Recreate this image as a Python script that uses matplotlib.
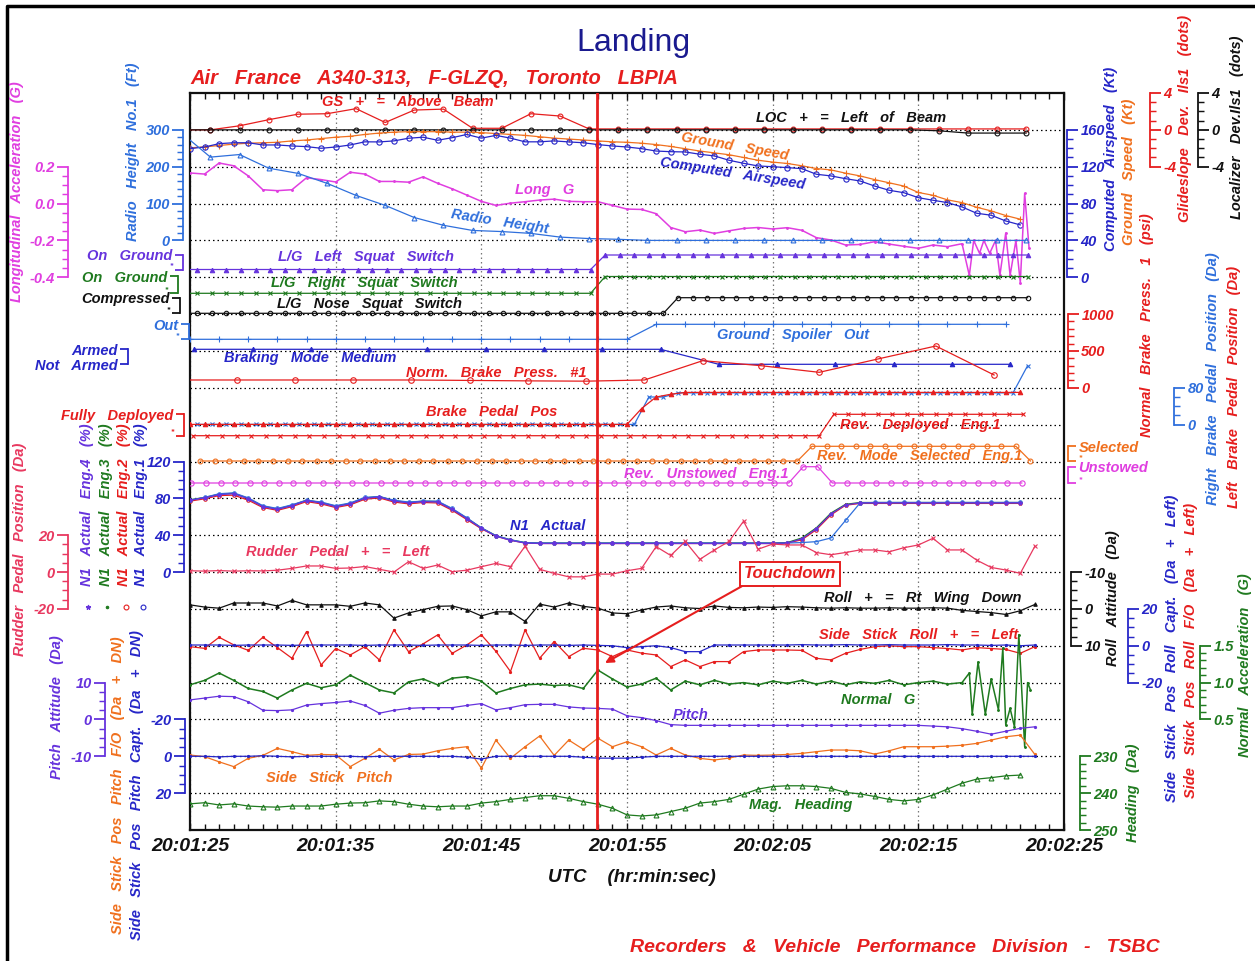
import numpy as np
import matplotlib
matplotlib.use("Agg")
import matplotlib.pyplot as plt
from matplotlib.lines import Line2D
from matplotlib.ticker import FixedLocator

plt.rcParams['font.family'] = ['Liberation Sans', 'DejaVu Sans']
plt.rcParams['font.style'] = 'italic'
plt.rcParams['font.weight'] = 'bold'
plt.rcParams['axes.unicode_minus'] = False

# ======================= DATA =======================
TIME_TICKS = [0, 10, 20, 30, 40, 50, 60]
TIME_LABELS = ['20:01:25', '20:01:35', '20:01:45', '20:01:55', '20:02:05', '20:02:15', '20:02:25']
TOUCHDOWN_T = 27.95

# ILS deviations (2 s samples)
ILS_T = np.arange(-0.6, 57.5, 2.0)
GLIDESLOPE = [0, 0, 0.44, 1.1, 1.7, 1.75, 2.3, 0.8, 2.15, 2.25, 0.17, 0.17, 1.75, 1.5, 0.1,
              0.1, 0.1, 0.1, 0.1, 0.1, 0.1, 0.1, 0.1, 0.1, 0.1, 0.1, 0.1, 0.1, 0.1, 0.1]
LOCALIZER = [0, 0, 0, 0, 0, 0, 0, 0, 0, 0, 0, 0, 0, 0, 0,
             0, 0, 0, 0, 0, 0, 0, 0, 0, 0, 0, -0.1, -0.35, -0.35, -0.35]

# Radio height (2 s samples)
RH_T = np.arange(-0.6, 57.5, 2.0)
RADIO_HEIGHT = [292, 226, 233, 196, 182, 155, 122, 95, 62, 41, 27, 24, 19, 9, 5,
                3, 0, 0, 0, 0, 0, 0, 0, 0, 0, 0, 0, 0, 0, 0]

# Speeds (1 s samples)
SPD_T = np.arange(0, 58)
CAS = [139.6, 141.4, 145, 146, 146, 143.6, 143.6, 142.5, 141.8, 140,
       141.4, 143.6, 147, 146.9, 148, 150.9, 152, 148.7, 151.5, 155,
       151, 154, 151, 147, 147, 148, 146.9, 146, 144, 142.5,
       141.4, 139.6, 137, 136.3, 136, 133.5, 131.7, 127, 123.7, 120.8,
       120, 119, 117.9, 111.8, 110, 107, 104.5, 99, 94.4, 91.8,
       86.4, 83.6, 81, 76.3, 69.5, 67.3, 61.1, 56.8]
GROUND_SPEED = [140.5, 141.5, 143, 144.5, 145.5, 146, 146.5, 148, 149, 150.5,
                152, 153, 155, 156.5, 157.5, 158, 158, 158, 157.5, 157.5,
                157, 156, 155, 154, 152.5, 151, 150, 149, 148, 147,
                146.5, 145.5, 144, 142, 139.5, 137, 135, 133, 130, 127,
                125, 123.5, 121, 118, 116.5, 113, 110, 106, 102.5, 99,
                92, 89, 84, 81, 76, 72, 67, 63]

# Longitudinal acceleration (G)
LONG_G_T = [0, 1, 2, 3, 4, 5, 6, 7, 8, 9, 10, 11, 12, 13, 14, 15, 16, 17, 18, 19,
            20, 21, 22, 23, 24, 25, 26, 27, 28, 29, 30, 31, 32, 33, 34, 35, 36, 37, 38, 39,
            40, 41, 42, 43, 44, 45, 46, 47, 48, 49, 50, 51, 52, 53,
            53.5, 53.8, 54.2, 54.5, 54.9, 55.3, 55.6, 56.0, 56.3, 56.7, 57.0, 57.3, 57.6]
LONG_G = [0.166, 0.16, 0.22, 0.205, 0.15, 0.075, 0.07, 0.075, 0.14, 0.13,
          0.117, 0.17, 0.16, 0.12, 0.12, 0.116, 0.145, 0.11, 0.08, 0.046,
          0.012, -0.01, 0.002, 0.01, 0.019, 0.024, 0.012, 0.01, 0.01, -0.01,
          -0.03, -0.032, -0.055, -0.13, -0.153, -0.144, -0.162, -0.148, -0.135, -0.13,
          -0.138, -0.131, -0.145, -0.185, -0.198, -0.225, -0.222, -0.207, -0.22, -0.232,
          -0.243, -0.225, -0.234, -0.218,
          -0.39, -0.2, -0.27, -0.2, -0.27, -0.2, -0.39, -0.16, -0.39, -0.2, -0.43, 0.055, -0.24]

# Discrete signals (0/1)
SQ_T = np.arange(-0.5, 58.0, 1.0)
LEFT_SQUAT = [0] * 29 + [1] * 30
RIGHT_SQUAT = [0] * 29 + [1] * 30
NOSE_SQUAT = [0] * 34 + [1] * 25
SPOILER_T = np.arange(0, 57, 2)
GROUND_SPOILER = [0] * 16 + [1] * 13
BRK_MODE_T = np.arange(0.3, 57, 4)
BRAKING_MODE_MED = [1] * 9 + [0] * 6
REV_DEP_T = np.arange(0.2, 58, 1.0)
REV_DEPLOYED = [0] * 44 + [1] * 14
REV_SEL_T = np.arange(0.7, 58, 1.0)
REV_SELECTED = [0] * 42 + [1] * 15 + [0]
REV_UNS_T = np.arange(0.1, 58, 1.0)
REV_UNSTOWED = [0] * 42 + [1, 1] + [0] * 14

# Normal brake pressure (psi), 4 s samples
PSI_T = np.arange(-0.8, 56, 4.0)
BRAKE_PRESS = [106, 106, 106, 106, 106, 100, 94, 90, 106, 368, 300, 210, 390, 567, 174]

# Brake pedal positions (deg)
LPED_T = np.arange(0, 58)
LEFT_PEDAL = [0.5] * 31 + [35, 60, 66] + [70] * 24
RPED_T = np.arange(0.5, 58, 1.0)
RIGHT_PEDAL = [0.5] * 31 + [60, 60, 69] + [69] * 23 + [128]

# N1 (%)
N1_T = np.arange(0, 58)
N1_ENG4 = [78, 80.5, 84, 85, 79.5, 71, 68, 72, 77.5, 75,
           71, 74, 80, 81.5, 77, 75, 76.5, 76, 68, 58,
           47.5, 39, 34.5, 31.5, 31, 31, 31, 31, 31, 31,
           31, 31, 31, 31, 31, 31, 31, 31, 31, 31,
           31, 31.5, 36, 47, 63, 73, 75, 75, 75, 75,
           75, 75, 75, 75, 75, 75, 75, 75]
N1_ENG3 = [78.5, 81, 84.5, 85.5, 80, 71.5, 68.5, 72.5, 78, 75.5,
           71.5, 74.5, 80.5, 82, 77.5, 75.5, 77, 76.5, 68.5, 58.5,
           48, 39.5, 35, 32, 31.5, 31.5, 31.5, 31.5, 31.5, 31.5,
           31.5, 31.5, 31.5, 31.5, 31.5, 31.5, 31.5, 31.5, 31.5, 31.5,
           31.5, 32, 37, 48, 64, 73.5, 75.5, 75.5, 75.5, 75.5,
           75.5, 75.5, 75.5, 75.5, 75.5, 75.5, 75.5, 75.5]
N1_ENG2 = [77, 79.5, 83, 83.5, 78, 70, 67, 71, 76.5, 74,
           70, 73, 79, 80.5, 76, 74, 75.5, 75, 67, 57,
           47, 39, 34.5, 31.5, 31, 31, 31, 31, 31, 31,
           31, 31, 31, 31, 31, 31, 31, 31, 31, 31,
           31, 31.5, 35, 46, 62, 72.5, 74.5, 74.5, 74.5, 74.5,
           74.5, 74.5, 74.5, 74.5, 74.5, 74.5, 74.5, 74.5]
N1_ENG1 = [78, 81, 85, 86, 80.5, 72, 69, 73, 78, 76,
           72, 75, 81, 82, 78, 76, 77, 77, 69, 59,
           48, 39.5, 35, 32, 31.5, 31.5, 31.5, 31.5, 31.5, 31.5,
           31.5, 31.5, 31.5, 31.5, 31.5, 31.5, 31.5, 31.5, 31.5, 31.5,
           31.5, 31.5, 32, 33, 37, 56, 75, 75.5, 75.5, 75.5,
           75.5, 75.5, 75.5, 75.5, 75.5, 75.5, 75.5, 75.5]

# 1 s samples t = 0..58
T59 = np.arange(0, 59)
RUDDER = [0.7, 0.5, 0.8, 0.5, 0.7, 0.6, 1.0, 2.0, 3.3, 3.3,
          2.0, 2.2, 3.0, 1.5, 0.0, 5.6, 2.0, 3.8, 0.2, 1.0,
          2.9, 4.7, 2.9, 14.0, 1.5, -0.7, -2.6, -2.6, -1.1, -1.1,
          0.7, 2.0, 13.8, 9.0, 16.6, 6.9, 12.0, 16.6, 27.6, 12.4,
          15.2, 14.7, 14.7, 10.6, 9.4, 10.6, 12.0, 12.0, 11.0, 13.2,
          14.7, 18.3, 12.0, 12.0, 6.5, 2.5, 1.1, -0.7, 14.0]
ROLL = [-1.1, -0.5, -0.2, -1.6, -1.6, -1.6, -0.8, -2.3, -1.1, -1.1,
        -1.1, -0.7, -1.6, -1.1, 2.5, 1.1, 0.2, -0.7, -0.8, 0.2,
        1.9, 0.8, 0.8, 3.4, -1.3, -0.5, -1.6, -0.7, -0.2, 1.1,
        1.3, 0.3, -0.5, -0.8, -0.3, -0.1, -0.8, -0.4, -0.3, -0.5,
        -0.4, -0.6, -0.5, -0.3, -0.2, -0.3, -0.2, -0.2, -0.3, -0.2,
        -0.2, -0.3, -0.2, 0.4, 0.7, 1.0, 1.5, 0.5, -1.2]
SS_ROLL_FO = [-0.5, -1.4, 4.6, 0.5, -2.5, 4.6, -1.0, -6.8, 7.7, -10.4,
              -1.5, -5.0, -0.5, -7.7, 8.6, -3.2, 1.0, 5.9, -4.1, 0.4,
              5.9, -3.0, -14.0, 8.6, -6.8, 2.3, -5.9, -1.4, -2.3, -5.9,
              -2.3, -4.0, -5.0, -11.3, -7.7, -11.3, -8.6, -8.6, -3.2, -2.3,
              -2.3, -2.3, -2.5, -6.8, -7.7, -4.1, -2.0, -0.5, 0.0, -0.5,
              -0.5, -1.0, -1.5, -2.3, -1.0, -1.5, -2.0, -4.1, -0.5]
SS_ROLL_CAPT = [0.4, 0.4, 0.4, 0.2, 0.4, 0.4, 0.4, 0.2, 0.4, 0.4,
                0.4, 0.4, 0.2, 0.4, 0.4, 0.4, 0.2, 0.4, 0.4, 0.4,
                0.2, 0.4, 0.4, 0.2, 0.4, 0.4, 0.2, 0.4, 0.2, 0.0,
                -1.0, -0.5, 0.0, -1.0, -3.2, -3.2, 0.4, 0.4, 0.4, 0.4,
                0.4, 0.4, 0.6, 0.4, 0.4, 0.6, 0.4, 0.4, 0.6, 0.4,
                0.4, 0.4, 0.6, 0.4, 0.4, 0.2, 0.4, 0.0, 0.4]
PITCH = [5.3, 5.8, 6.3, 6.2, 4.8, 2.5, 2.4, 2.6, 3.9, 4.3,
         4.6, 5.0, 3.8, 1.7, 2.5, 3.0, 3.2, 3.2, 3.2, 3.8,
         4.3, 2.6, 3.2, 4.0, 4.1, 4.1, 3.4, 3.1, 3.0, 2.8,
         1.0, 0.5, -0.3, -1.4, -1.6, -1.6, -1.6, -1.6, -1.6, -1.6,
         -1.6, -1.6, -1.6, -1.6, -1.6, -1.6, -1.6, -1.6, -1.6, -1.6,
         -1.6, -1.8, -2.0, -2.5, -3.2, -4.0, -3.2, -2.4, -2.0]
SS_PITCH_FO = [-0.7, 0.2, 3.0, 5.6, 1.1, -0.5, -4.3, -2.5, -0.5, -1.0,
               -0.8, 5.6, 1.1, -3.8, 2.0, -1.0, -1.2, -3.0, -4.3, -5.2,
               6.5, -8.8, 1.1, -5.2, -11.0, -0.5, -8.8, -3.8, -9.8, -5.2,
               -7.9, -5.2, -0.7, -4.3, -0.7, 1.1, 2.0, 1.0, -0.7, -0.5,
               -0.7, -1.0, -1.6, -2.5, -3.4, -3.4, -3.0, -1.2, -3.0, -5.2,
               -5.2, -5.2, -5.5, -6.0, -7.0, -8.8, -10.6, -11.5, -1.0]
SS_PITCH_CAPT = [0, 0, 0.3, 0, 0, -0.3, 0, 0.3, 0, 0,
                 0, 0, 0.3, 0, 0, 0, 0, 0, 0, 0.5,
                 1.5, 0, 0, 0, 0, 0, 0, 0.5, 1.0, 1.0,
                 1.0, 0.5, 0, 0, 0, 0, 0, 0, 0, 0,
                 0, 0, 0, 0, 0, 0, 0, 0, 0, 0,
                 0, 0, 0, 0, 0, 0, 0, 0, 0]

# Normal acceleration (G)
NORM_G_T = list(range(0, 54)) + [53.5, 53.7, 54.1, 54.6, 55.0, 55.5, 55.8, 56.0, 56.3, 56.6, 56.9, 57.3, 57.5, 57.7]
NORM_G = [0.97, 1.03, 1.13, 1.03, 0.92, 0.88, 0.79, 0.9, 0.99, 0.93,
          0.97, 1.1, 1.0, 0.9, 0.86, 1.01, 1.05, 0.97, 1.06, 1.08,
          1.02, 0.86, 0.92, 0.97, 0.98, 0.96, 0.97, 0.92, 1.17, 1.05,
          0.94, 0.98, 1.06, 0.9, 1.02, 0.97, 1.03, 0.98, 1.0, 0.97,
          1.02, 0.99, 1.03, 0.98, 1.02, 0.97, 1.01, 0.99, 1.03, 0.97,
          1.0, 1.02, 0.98, 1.0,
          1.13, 0.57, 1.28, 0.57, 1.05, 0.63, 1.47, 0.43, 0.65, 0.4, 1.65, 0.13, 1.0, 0.9]

# Magnetic heading (deg)
HDG_T = np.arange(0, 58)
HEADING = [242.9, 242.6, 243.2, 242.9, 243.5, 243.7, 243.8, 243.5, 243.5, 243.5,
           243.0, 242.7, 242.6, 242.1, 242.3, 243.0, 243.5, 243.7, 243.5, 243.5,
           242.7, 242.3, 241.7, 241.2, 240.7, 240.7, 241.4, 242.3, 243.0, 244.1,
           245.9, 246.2, 245.9, 245.0, 244.1, 242.7, 242.3, 241.7, 240.3, 238.9,
           238.2, 238.0, 238.0, 238.2, 238.7, 239.8, 240.2, 240.9, 241.7, 242.1,
           241.7, 240.5, 238.9, 237.3, 236.2, 235.8, 235.3, 235.1]

# ======================= STYLE =======================
RED = '#e61e1e'
ORANGE = '#f0701e'
DBLUE = '#2626c8'
LBLUE = '#2f6fdc'
PURPLE = '#6633dd'
GREEN = '#1f7a1f'
MAGENTA = '#e03ee0'
CRIMSON = '#e8385f'
BLACK = '#111111'
LBL = 10.5  # inner label font size

W, H = 1255, 961
fig = plt.figure(figsize=(W / 100, H / 100), dpi=100)
fig.patch.set_facecolor('white')


def fx(x):
    return x / W


def fy(y):
    return 1 - y / H


X0, X1, Y0, Y1 = 190, 1064, 93, 830
UPX = (Y1 - Y0) / 20.0
PX_PER_S = (X1 - X0) / 60.0


def gy(k):
    return Y1 - k * UPX


ax = fig.add_axes([fx(X0), fy(Y1), (X1 - X0) / W, (Y1 - Y0) / H])
ax.set_xlim(0, 60)
ax.set_ylim(0, 20)
ax.set_xticks(TIME_TICKS)
ax.set_xticklabels(TIME_LABELS)
ax.xaxis.set_minor_locator(FixedLocator(np.arange(0, 61, 1)))
ax.tick_params(axis='x', which='both', direction='in', top=True, bottom=True,
               labelsize=14, pad=6, colors=BLACK)
ax.tick_params(axis='x', which='major', length=5, width=1)
ax.tick_params(axis='x', which='minor', length=4, width=1)
ax.set_yticks(np.arange(1, 20))
ax.tick_params(axis='y', length=0, labelleft=False)
ax.grid(axis='y', color='black', lw=0.9, ls=(0, (1.2, 2.4)))
ax.grid(axis='x', color='#777777', lw=0.9, ls=(0, (1.2, 2.4)))
for s in ax.spines.values():
    s.set_linewidth(1.6)
    s.set_color(BLACK)

_cnt = [0]


def overlay(u_a, v_a, u_b, v_b):
    _cnt[0] += 1
    a = fig.add_axes(ax.get_position().bounds, sharex=ax, label='ov%d' % _cnt[0])
    a.set_axis_off()
    s = (v_b - v_a) / (u_b - u_a)
    a.set_ylim(v_a - u_a * s, v_a + (20 - u_a) * s)
    return a


def overlay_px(y_a, v_a, y_b, v_b):
    return overlay((Y1 - y_a) / UPX, v_a, (Y1 - y_b) / UPX, v_b)


def trace(a, t, v, color, marker=None, ms=3.5, open_=False, lw=0.9, mew=0.8):
    a.plot(t, v, color=color, lw=lw, marker=marker, ms=ms,
           mfc='none' if open_ else color, mec=color, mew=mew)


def side_scale(x, y_top, v_top, y_bot, v_bot, color, major, minor=None, side='left',
               labels=None, length=8, mlength=4, lsize=10.5, lw=1.3):
    _cnt[0] += 1
    a = fig.add_axes([fx(x), fy(y_bot), 1e-4, (y_bot - y_top) / H], label='sc%d' % _cnt[0])
    a.set_ylim(v_bot, v_top)
    a.patch.set_visible(False)
    for s in a.spines:
        a.spines[s].set_visible(s == side)
    a.spines[side].set_color(color)
    a.spines[side].set_linewidth(lw)
    a.set_xticks([])
    if side == 'left':
        a.yaxis.tick_left()
    else:
        a.yaxis.tick_right()
    a.set_yticks(major)
    if labels is not None:
        a.set_yticklabels(labels)
    if minor is not None:
        a.yaxis.set_minor_locator(FixedLocator(minor))
    a.tick_params(axis='y', which='major', direction='out', length=length, width=lw,
                  color=color, labelcolor=color, labelsize=lsize, pad=1.5)
    a.tick_params(axis='y', which='minor', direction='out', length=mlength, width=lw * 0.8,
                  color=color)
    for lbl in a.get_yticklabels():
        if lbl.get_text() == '*':
            lbl.set_fontsize(6)
            lbl.set_verticalalignment('bottom')
    return a


# ======================= TRACES =======================
a_ils = overlay(19, 0, 20, 4)
trace(a_ils, ILS_T, GLIDESLOPE, RED, 'o', open_=True)
trace(a_ils, ILS_T, LOCALIZER, BLACK, 'o', open_=True)

a_kt = overlay(15, 0, 19, 160)
trace(a_kt, SPD_T, GROUND_SPEED, ORANGE, '+', ms=4)
trace(a_kt, SPD_T, CAS, DBLUE, 'o', open_=True, ms=3.8)

a_lg = overlay(17, 0.0, 18, 0.2)
trace(a_lg, LONG_G_T, LONG_G, MAGENTA, '.', ms=2.5, lw=1.1)

a_rh = overlay(16, 0, 19, 300)
trace(a_rh, RH_T, RADIO_HEIGHT, LBLUE, '^', open_=True, ms=3.5)

a_lsq = overlay_px(269.5, 0, 255.0, 1)
trace(a_lsq, SQ_T, LEFT_SQUAT, PURPLE, '^', ms=3.2)
a_rsq = overlay_px(293.3, 0, 276.5, 1)
trace(a_rsq, SQ_T, RIGHT_SQUAT, GREEN, 'x', ms=3.2)
a_nsq = overlay_px(313.3, 0, 297.7, 1)
trace(a_nsq, SQ_T, NOSE_SQUAT, BLACK, 'o', open_=True, ms=3.2)
a_sp = overlay_px(339.3, 0, 324.3, 1)
trace(a_sp, SPOILER_T, GROUND_SPOILER, LBLUE, '+', ms=4)
a_bm = overlay_px(364.3, 0, 349.3, 1)
trace(a_bm, BRK_MODE_T, BRAKING_MODE_MED, DBLUE, '^', ms=3.2)

a_psi = overlay(12, 0, 14, 1000)
trace(a_psi, PSI_T, BRAKE_PRESS, RED, 'o', open_=True, ms=4)

a_ped = overlay(11, 0, 12, 80)
trace(a_ped, RPED_T, RIGHT_PEDAL, LBLUE, 'x', ms=3.2)
trace(a_ped, LPED_T, LEFT_PEDAL, RED, '^', ms=3.2)

a_rd = overlay_px(435.7, 0, 414.3, 1)
trace(a_rd, REV_DEP_T, REV_DEPLOYED, RED, 'x', ms=3.2)
a_rs = overlay_px(461.0, 0, 446.3, 1)
trace(a_rs, REV_SEL_T, REV_SELECTED, ORANGE, 'o', open_=True, ms=3.5)
a_ru = overlay_px(483.0, 0, 466.7, 1)
trace(a_ru, REV_UNS_T, REV_UNSTOWED, MAGENTA, 'o', open_=True, ms=3.8)

a_n1 = overlay(7, 0, 10, 120)
trace(a_n1, N1_T, N1_ENG2, RED, 'o', open_=True, ms=2.5)
trace(a_n1, N1_T, N1_ENG3, GREEN, '.', ms=2.5)
trace(a_n1, N1_T, N1_ENG1, LBLUE, 'o', open_=True, ms=2.5)
trace(a_n1, N1_T, N1_ENG4, PURPLE, '*', ms=3)

a_rud = overlay(7, 0, 8, 20)
trace(a_rud, T59, RUDDER, CRIMSON, 'x', ms=3.2)

a_roll = overlay(6, 0, 7, -10)
trace(a_roll, T59, ROLL, BLACK, '^', ms=2.5)

a_ssr = overlay(5, 0, 6, 20)
trace(a_ssr, T59, SS_ROLL_FO, RED, '.', ms=3)
trace(a_ssr, T59, SS_ROLL_CAPT, DBLUE, '.', ms=3)

a_ng = overlay(4, 1.0, 5, 1.5)
trace(a_ng, NORM_G_T, NORM_G, GREEN, '.', ms=2.5, lw=1.1)

a_pt = overlay(3, 0, 4, 10)
trace(a_pt, T59, PITCH, PURPLE, '.', ms=3)

a_ssp = overlay(2, 0, 3, -20)
trace(a_ssp, T59, SS_PITCH_FO, ORANGE, '.', ms=3)
trace(a_ssp, T59, SS_PITCH_CAPT, DBLUE, '.', ms=3)

a_hdg = overlay(1, 240, 2, 230)
trace(a_hdg, HDG_T, HEADING, GREEN, '^', open_=True, ms=3.5)

# ======================= TEXT OVERLAY =======================
tax = overlay(0, 0, 20, 20)
tax.axvline(TOUCHDOWN_T, color=RED, lw=2)
tax.annotate('Touchdown', xy=((605 - X0) / PX_PER_S, (Y1 - 663) / UPX),
             xytext=((790 - X0) / PX_PER_S, (Y1 - 574) / UPX),
             ha='center', va='center', color=RED, fontsize=12,
             bbox=dict(boxstyle='square,pad=0.25', fc='white', ec=RED, lw=1.4),
             arrowprops=dict(arrowstyle='-|>', color=RED, lw=1.5, relpos=(0.07, 0.0),
                             shrinkA=0, shrinkB=0, mutation_scale=12))


def ftext(x, y, s, color, size=LBL, rot=0, ha='center', **kw):
    fig.text(fx(x), fy(y), s, color=color, fontsize=size, rotation=rot, ha=ha,
             va='center', rotation_mode='anchor', **kw)


# inner labels
ftext(408, 102, 'GS   +   =   Above   Beam', RED)
ftext(851, 118, 'LOC   +   =   Left   of   Beam', BLACK)
ftext(735, 147, 'Ground   Speed', ORANGE, rot=-10)
ftext(733, 174, 'Computed   Airspeed', DBLUE, rot=-9)
ftext(545, 190, 'Long   G', MAGENTA)
ftext(500, 222, 'Radio   Height', LBLUE, rot=-9)
ftext(366, 257, 'L/G   Left   Squat   Switch', PURPLE)
ftext(364, 283, 'L/G   Right   Squat   Switch', GREEN)
ftext(369, 304, 'L/G   Nose   Squat   Switch', BLACK)
ftext(793, 335, 'Ground   Spoiler   Out', LBLUE)
ftext(310, 358, 'Braking   Mode   Medium', DBLUE)
ftext(496, 373, 'Norm.   Brake   Press.   #1', RED)
ftext(492, 412, 'Brake   Pedal   Pos', RED)
ftext(920, 425, 'Rev.   Deployed   Eng.1', RED)
ftext(920, 456, 'Rev.   Mode   Selected   Eng.1', ORANGE)
ftext(706, 474, 'Rev.   Unstowed   Eng.1', MAGENTA)
ftext(548, 526, 'N1   Actual', DBLUE)
ftext(338, 552, 'Rudder   Pedal   +   =   Left', CRIMSON)
ftext(923, 598, 'Roll   +   =   Rt   Wing   Down', BLACK)
ftext(919, 635, 'Side   Stick   Roll   +   =   Left', RED)
ftext(878, 700, 'Normal   G', GREEN)
ftext(691, 715, 'Pitch', PURPLE)
ftext(329, 778, 'Side   Stick   Pitch', ORANGE)
ftext(801, 805, 'Mag.   Heading', GREEN)

# titles
ftext(633, 43, 'Landing', '#1a1a8f', size=23, style='normal', weight='normal')
ftext(190, 79, 'Air   France   A340-313,   F-GLZQ,   Toronto   LBPIA', RED, size=14.5, ha='left')
ftext(632, 877, 'UTC    (hr:min:sec)', BLACK, size=13.5)
ftext(895, 948, 'Recorders   &   Vehicle   Performance   Division   -   TSBC', RED, size=14)

# rotated axis labels
ftext(17, 192, 'Longitudinal   Acceleration   (G)', MAGENTA, rot=90)
ftext(133, 152, 'Radio   Height   No.1   (Ft)', LBLUE, rot=90)
ftext(1111, 159, 'Computed   Airspeed   (Kt)', DBLUE, rot=90)
ftext(1129, 172, 'Ground   Speed   (Kt)', ORANGE, rot=90)
ftext(1185, 118, 'Glideslope   Dev.   Ils1   (dots)', RED, rot=90)
ftext(1237, 127, 'Localizer   Dev.Ils1   (dots)', BLACK, rot=90)
ftext(1147, 325, 'Normal   Brake   Press.   1   (psi)', RED, rot=90)
ftext(1213, 379, 'Right   Brake   Pedal   Position   (Da)', LBLUE, rot=90)
ftext(1234, 387, 'Left   Brake   Pedal   Position   (Da)', RED, rot=90)
ftext(87, 505, 'N1   Actual   Eng.4   (%)', PURPLE, rot=90)
ftext(106, 505, 'N1   Actual   Eng.3   (%)', GREEN, rot=90)
ftext(124, 505, 'N1   Actual   Eng.2   (%)', RED, rot=90)
ftext(141, 505, 'N1   Actual   Eng.1   (%)', DBLUE, rot=90)
ftext(20, 549, 'Rudder   Pedal   Position   (Da)', CRIMSON, rot=90)
ftext(57, 707, 'Pitch   Attitude   (Da)', PURPLE, rot=90)
ftext(118, 785, 'Side   Stick   Pos   Pitch   F/O   (Da   +   DN)', ORANGE, rot=90)
ftext(137, 785, 'Side   Stick   Pos   Pitch   Capt.   (Da   +   DN)', DBLUE, rot=90)
ftext(1113, 598, 'Roll   Attitude   (Da)', BLACK, rot=90)
ftext(1172, 648, 'Side   Stick   Pos   Roll   Capt.   (Da   +   Left)', DBLUE, rot=90)
ftext(1191, 650, 'Side   Stick   Pos   Roll   F/O   (Da   +   Left)', RED, rot=90)
ftext(1245, 665, 'Normal   Acceleration   (G)', GREEN, rot=90)
ftext(1133, 793, 'Heading   (Da)', GREEN, rot=90)

# N1 legend keys
for kx, mk, col, op in [(88, '*', PURPLE, False), (107, '.', GREEN, False),
                        (126, 'o', RED, True), (143, 'o', DBLUE, True)]:
    fig.add_artist(Line2D([fx(kx)], [fy(607)], transform=fig.transFigure, marker=mk,
                          ms=3.5, color=col, mfc='none' if op else col, mew=0.8, ls='none'))

# ======================= SIDE SCALES =======================
side_scale(68, gy(18), 0.2, gy(15), -0.4, MAGENTA, [0.2, 0.0, -0.2, -0.4],
           minor=np.arange(-0.4, 0.21, 0.05), labels=['0.2', '0.0', '-0.2', '-0.4'])
side_scale(183, gy(19), 300, gy(16), 0, LBLUE, [0, 100, 200, 300], minor=np.arange(0, 301, 20))
side_scale(1067, gy(19), 160, gy(15), 0, DBLUE, [0, 40, 80, 120, 160], minor=np.arange(0, 161, 10),
           side='right')
side_scale(1150, gy(20), 4, gy(18), -4, RED, [-4, 0, 4], minor=np.arange(-4, 5, 1), side='right')
side_scale(1198, gy(20), 4, gy(18), -4, BLACK, [-4, 0, 4], minor=np.arange(-4, 5, 1), side='right')
side_scale(1068, gy(14), 1000, gy(12), 0, RED, [0, 500, 1000], minor=np.arange(0, 1001, 100),
           side='right')
side_scale(1174, gy(12), 80, gy(11), 0, LBLUE, [0, 80], minor=np.arange(0, 81, 20), side='right')
side_scale(184, gy(10), 120, gy(7), 0, DBLUE, [0, 40, 80, 120], minor=np.arange(0, 121, 10))
side_scale(68, gy(8), 20, gy(6), -20, CRIMSON, [-20, 0, 20], minor=np.arange(-20, 21, 5))
side_scale(1071, gy(7), -10, gy(5), 10, BLACK, [-10, 0, 10], minor=np.arange(-10, 11, 2.5),
           side='right')
side_scale(1128, gy(6), 20, gy(4), -20, DBLUE, [-20, 0, 20], minor=np.arange(-20, 21, 5),
           side='right')
side_scale(1200, gy(5), 1.5, gy(3), 0.5, GREEN, [0.5, 1.0, 1.5], minor=np.arange(0.5, 1.51, 0.1),
           side='right', labels=['0.5', '1.0', '1.5'])
side_scale(105, gy(4), 10, gy(2), -10, PURPLE, [-10, 0, 10], minor=np.arange(-10, 11, 2.5))
side_scale(185, gy(3), -20, gy(1), 20, DBLUE, [-20, 0, 20], minor=np.arange(-20, 21, 5))
side_scale(1080, gy(2), 230, gy(0), 250, GREEN, [230, 240, 250], minor=np.arange(230, 251, 2),
           side='right')

# discrete brackets
side_scale(183, 255.0, 1, 269.5, 0, PURPLE, [0, 1], labels=['*', 'On   Ground'], length=6)
side_scale(178, 276.5, 1, 293.3, 0, GREEN, [0, 1], labels=['*', 'On   Ground'], length=6)
side_scale(180, 297.7, 1, 313.3, 0, BLACK, [0, 1], labels=['*', 'Compressed'], length=6)
side_scale(189, 324.3, 1, 339.3, 0, LBLUE, [0, 1], labels=['*', 'Out'], length=6)
side_scale(128, 349.3, 1, 364.3, 0, DBLUE, [0, 1], labels=['Not   Armed', 'Armed'], length=6)
side_scale(184, 414.3, 1, 435.7, 0, RED, [0, 1], labels=['*', 'Fully   Deployed'], length=6)
side_scale(1068, 446.3, 1, 461.0, 0, ORANGE, [0, 1], labels=['*', 'Selected'], length=6,
           side='right')
side_scale(1068, 466.7, 1, 483.0, 0, MAGENTA, [0, 1], labels=['*', 'Unstowed'], length=6,
           side='right')

# outer border (left and top edges)
fig.add_artist(Line2D([fx(7), fx(7), fx(1255)], [fy(961), fy(6), fy(6)],
                      transform=fig.transFigure, color='black', lw=2.5))

fig.savefig('out.png', dpi=100)
